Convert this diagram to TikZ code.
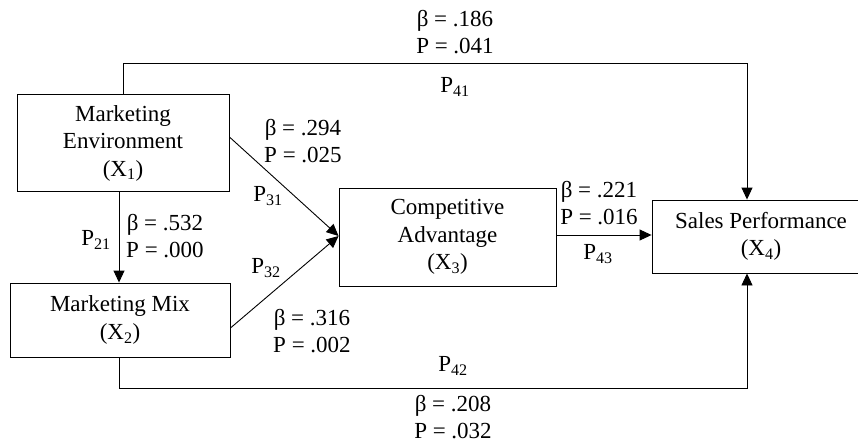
\documentclass[tikz,border=0pt]{standalone}
\usepackage{fontspec}
\setmainfont{Liberation Serif}
\usetikzlibrary{arrows.meta}
\begin{document}
\begin{tikzpicture}[x=1pt,y=-1pt,
  every node/.style={font=\fontsize{23}{27.5}\selectfont, inner sep=0pt},
  box/.style={draw, line width=0.9pt, align=center},
  lbl/.style={align=center},
  conn/.style={line width=0.9pt, -{Triangle[length=12pt,width=11pt]}}]
\useasboundingbox (0,0) rectangle (858,444);
\node[box, minimum width=212pt, minimum height=97pt] (me) at (123,143) {Marketing\\Environment\\(X\textsubscript{1})};
\node[box, minimum width=220pt, minimum height=74pt] (mm) at (120,320) {Marketing Mix\\(X\textsubscript{2})};
\node[box, minimum width=217pt, minimum height=98pt] (ca) at (447.5,237) {Competitive\\Advantage\\(X\textsubscript{3})};
\node[box, minimum width=218pt, minimum height=73pt] (sp) at (761,236.5) {Sales Performance\\(X\textsubscript{4})};
\coordinate (t1) at (123,63);
\coordinate (t2) at (747,63);
\coordinate (b1) at (119,388);
\coordinate (b2) at (747,388);
\coordinate (ca1) at (ca.west |- 0,236);
\draw[line width=0.9pt] (me.north -| t1) -- (t1);
\draw[conn] (t1) -- (t2) -- (sp.north -| t2);
\draw[conn] (me.south -| b1) -- (mm.north -| b1);
\draw[conn] (mm.south -| b1) -- (b1) -- (b2) -- (sp.south -| b2);
\draw[conn] (me.east |- 0,137) -- (ca1);
\draw[conn] (mm.east |- 0,328) -- (ca1);
\draw[conn] (ca.east |- 0,235) -- (sp.west |- 0,235);
% labels
\node[lbl] (l1) at (455,32) {β = .186\\P = .041};
\node (l2) at (455,87) {P\textsubscript{41}};
\node[lbl] (l3) at (303,141) {β = .294\\P = .025};
\node (l4) at (268,196) {P\textsubscript{31}};
\node[lbl] (l5) at (165,236) {β = .532\\P = .000};
\node (l6) at (96,240) {P\textsubscript{21}};
\node (l7) at (266,268) {P\textsubscript{32}};
\node[lbl] (l8) at (312,331) {β = .316\\P = .002};
\node[lbl] (l9) at (599,203) {β = .221\\P = .016};
\node (l10) at (598,254) {P\textsubscript{43}};
\node (l11) at (453,366) {P\textsubscript{42}};
\node[lbl] (l12) at (453,417) {β = .208\\P = .032};
\end{tikzpicture}
\end{document}
